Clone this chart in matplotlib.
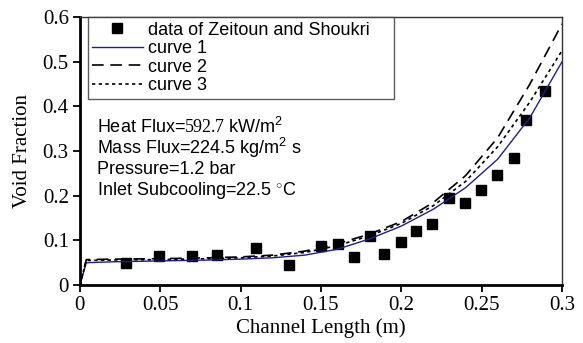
import matplotlib
matplotlib.use("Agg")
import matplotlib.pyplot as plt

plt.rcParams['font.family'] = ['Liberation Sans', 'DejaVu Sans']
plt.rcParams['mathtext.fontset'] = 'custom'
plt.rcParams['mathtext.rm'] = 'Liberation Serif'
plt.rcParams['mathtext.sf'] = 'Liberation Sans'

# --- experimental data (Zeitoun and Shoukri) ---
data_x = [0.0286, 0.049, 0.070, 0.0855, 0.1095, 0.130, 0.150, 0.1607, 0.1706, 0.1808,
          0.1895, 0.1997, 0.209, 0.2192, 0.2296, 0.2395, 0.2497, 0.2598, 0.270, 0.2777, 0.2896]
data_y = [0.050, 0.066, 0.065, 0.067, 0.082, 0.045, 0.087, 0.093, 0.063, 0.109,
          0.069, 0.096, 0.122, 0.136, 0.194, 0.183, 0.213, 0.246, 0.284, 0.369, 0.434]

# --- model curves ---
curve_x = [0, 0.004, 0.02, 0.05, 0.08, 0.1, 0.12, 0.14, 0.16, 0.18, 0.2, 0.22, 0.24, 0.26, 0.28, 0.3]
curve1 = [0, 0.050, 0.052, 0.054, 0.056, 0.058, 0.061, 0.067, 0.080, 0.103, 0.132, 0.170, 0.218, 0.282, 0.375, 0.500]
curve2 = [0, 0.057, 0.058, 0.059, 0.061, 0.063, 0.067, 0.076, 0.092, 0.114, 0.142, 0.185, 0.245, 0.330, 0.450, 0.585]
curve3 = [0, 0.055, 0.056, 0.057, 0.059, 0.061, 0.065, 0.073, 0.088, 0.110, 0.138, 0.178, 0.232, 0.310, 0.410, 0.525]

xticks = [0, 0.05, 0.1, 0.15, 0.2, 0.25, 0.3]
xtick_labels = ['0', '0.05', '0.1', '0.15', '0.2', '0.25', '0.3']
yticks = [0, 0.1, 0.2, 0.3, 0.4, 0.5, 0.6]
ytick_labels = ['0', '0.1', '0.2', '0.3', '0.4', '0.5', '0.6']

fig = plt.figure(figsize=(5.83, 3.43), dpi=100)
ax = fig.add_axes([0.137, 0.169, 0.827, 0.781])

ax.plot(data_x, data_y, 's', color='black', ms=7, label='data of Zeitoun and Shoukri    ')
ax.plot(curve_x, curve1, '-', color='#20208a', lw=1.0, label='curve 1')
ax.plot(curve_x, curve2, color='black', lw=1.2, dashes=(7, 4), label='curve 2')
ax.plot(curve_x, curve3, color='black', lw=1.2, dashes=(2, 2), label='curve 3')

ax.set_xlim(0, 0.3)
ax.set_ylim(0, 0.6)
ax.set_xticks(xticks)
ax.set_xticklabels(xtick_labels, family='Liberation Serif', fontsize=15)
ax.set_yticks(yticks)
ax.set_yticklabels(ytick_labels, family='Liberation Serif', fontsize=15)
ax.tick_params(direction='out', length=5, width=1.3, pad=3)
ax.set_xlabel('Channel Length (m)', family='Liberation Serif', fontsize=15, labelpad=2)
ax.set_ylabel('Void Fraction', family='Liberation Serif', fontsize=15, labelpad=8)

ax.spines['left'].set_linewidth(2)
ax.spines['bottom'].set_linewidth(2)
ax.spines['top'].set_linewidth(1)
ax.spines['right'].set_linewidth(1)
ax.spines['top'].set_color('#333333')
ax.spines['right'].set_color('#333333')

leg = ax.legend(loc='upper left', bbox_to_anchor=(0.016, 1.0), fontsize=13, frameon=True,
                fancybox=False, edgecolor='#333333', handlelength=2.8, handletextpad=0.3,
                labelspacing=0.08, borderpad=0.25, borderaxespad=0)
leg.get_frame().set_linewidth(1.0)

info = ['Heat Flux=$\\mathrm{592.7}$ kW/m$^{\\mathsf{2}}$',
        'Mass Flux=224.5 kg/m$^{\\mathsf{2}}$ s',
        'Pressure=1.2 bar',
        'Inlet Subcooling=22.5 $^{\\circ}$C']
for i, t in enumerate(info):
    ax.text(0.035, 0.59 - i * 0.0787, t, transform=ax.transAxes, fontsize=13, va='center')

fig.savefig('out.png', dpi=100)
